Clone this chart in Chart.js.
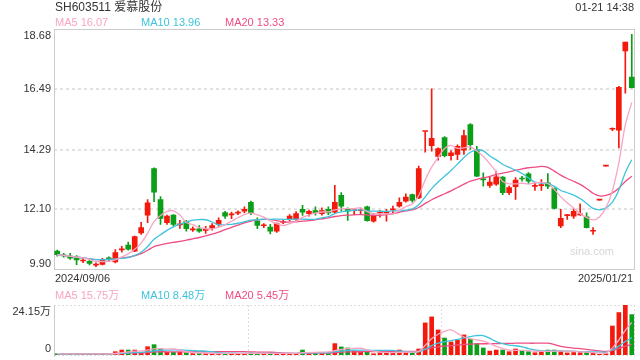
<!DOCTYPE html>
<html lang="zh">
  <head>
    <meta charset="utf-8" />
    <title>SH603511 爱慕股份</title>
    <style>
      * {
        margin: 0;
        padding: 0;
      }
      body {
        width: 640px;
        height: 360px;
        background: #fff;
        position: relative;
        overflow: hidden;
      }
      canvas {
        position: absolute;
        left: 0;
      }
      #kChart {
        top: 0;
      }
      #volChart {
        top: 285px;
      }
    </style>
  </head>
  <body>
    <canvas id="kChart" width="640" height="285"></canvas>
    <canvas id="volChart" width="640" height="75"></canvas>

    <script src="https://cdn.jsdelivr.net/npm/chart.js@4.4.1/dist/chart.umd.min.js"></script>

    <script>
      // trading days shown
      const dates = [
        "2024-09-06", "2024-09-09", "2024-09-10", "2024-09-11", "2024-09-12", "2024-09-13",
        "2024-09-18", "2024-09-19", "2024-09-20", "2024-09-23", "2024-09-24", "2024-09-25",
        "2024-09-26", "2024-09-27", "2024-09-30",
        "2024-10-08", "2024-10-09", "2024-10-10", "2024-10-11", "2024-10-14", "2024-10-15",
        "2024-10-16", "2024-10-17", "2024-10-18", "2024-10-21", "2024-10-22", "2024-10-23",
        "2024-10-24", "2024-10-25", "2024-10-28", "2024-10-29", "2024-10-30", "2024-10-31",
        "2024-11-01", "2024-11-04", "2024-11-05", "2024-11-06", "2024-11-07", "2024-11-08",
        "2024-11-11", "2024-11-12", "2024-11-13", "2024-11-14", "2024-11-15", "2024-11-18",
        "2024-11-19", "2024-11-20", "2024-11-21", "2024-11-22", "2024-11-25", "2024-11-26",
        "2024-11-27", "2024-11-28", "2024-11-29",
        "2024-12-02", "2024-12-03", "2024-12-04", "2024-12-05", "2024-12-06", "2024-12-09",
        "2024-12-10", "2024-12-11", "2024-12-12", "2024-12-13", "2024-12-16", "2024-12-17",
        "2024-12-18", "2024-12-19", "2024-12-20", "2024-12-23", "2024-12-24", "2024-12-25",
        "2024-12-26", "2024-12-27", "2024-12-30", "2024-12-31",
        "2025-01-02", "2025-01-03", "2025-01-06", "2025-01-07", "2025-01-08", "2025-01-09",
        "2025-01-10", "2025-01-13", "2025-01-14", "2025-01-15", "2025-01-16", "2025-01-17",
        "2025-01-20", "2025-01-21",
      ];

      const open = [
        10.57, 10.44, 10.39, 10.35, 10.21, 10.2, 10.06, 10.09, 10.3, 10.18,
        10.62, 10.79, 10.57, 11.24, 11.89, 13.59, 12.46, 11.61, 11.89, 11.53,
        11.66, 11.35, 11.39, 11.33, 11.41, 11.55, 11.98, 11.9, 11.96, 12.03,
        12.36, 11.67, 11.5, 11.45, 11.3, 11.62, 11.75, 11.73, 12.1, 11.94,
        12.06, 11.94, 12.1, 12.0, 12.61, 12.1, 12.05, 12.05, 12.19, 11.67,
        11.96, 11.97, 12.08, 12.22, 12.4, 12.64, 12.52, 14.95, 14.43, 14.04,
        14.73, 14.06, 14.11, 14.27, 15.2, 14.29, 13.2, 12.98, 13.02, 13.28,
        12.71, 12.93, 13.23, 13.4, 12.94, 12.97, 13.07, 12.86, 11.49, 11.87,
        11.85, 11.9, 11.83, 11.3, 12.44, 13.68, 15.03, 15.0, 17.9, 16.94,
      ];
      const high = [
        10.61, 10.49, 10.49, 10.41, 10.33, 10.27, 10.14, 10.31, 10.36, 10.63,
        10.75, 10.9, 11.12, 11.63, 12.46, 13.62, 12.57, 11.89, 11.91, 11.7,
        11.7, 11.46, 11.51, 11.48, 11.58, 11.79, 12.03, 12.0, 12.05, 12.19,
        12.4, 11.79, 11.58, 11.55, 11.61, 11.73, 11.91, 12.02, 12.25, 12.07,
        12.19, 12.16, 12.19, 12.98, 12.71, 12.16, 12.12, 12.15, 12.22, 11.91,
        12.06, 12.1, 12.22, 12.52, 12.67, 12.66, 13.68, 14.95, 16.51, 14.35,
        14.76, 14.25, 14.46, 15.0, 15.24, 14.41, 13.44, 13.31, 13.5, 13.3,
        12.95, 13.26, 13.31, 13.45, 13.07, 13.19, 13.41, 12.89, 12.1, 11.91,
        12.12, 12.3, 11.97, 11.43, 12.44, 13.68, 15.08, 16.6, 18.22, 18.5,
      ];
      const low = [
        10.39, 10.35, 10.27, 10.08, 10.15, 10.07, 10.0, 10.07, 10.2, 10.14,
        10.53, 10.61, 10.55, 11.18, 11.61, 12.38, 11.55, 11.55, 11.48, 11.4,
        11.3, 11.29, 11.26, 11.22, 11.34, 11.48, 11.77, 11.76, 11.91, 11.97,
        11.91, 11.39, 11.43, 11.2, 11.26, 11.58, 11.69, 11.7, 11.88, 11.85,
        11.89, 11.89, 11.91, 11.97, 12.04, 11.7, 11.91, 11.94, 11.67, 11.63,
        11.81, 11.67, 11.97, 12.18, 12.36, 12.36, 12.49, 14.19, 14.23, 13.9,
        14.02, 13.9, 13.92, 14.11, 14.29, 13.3, 12.95, 12.9, 12.98, 12.64,
        12.64, 12.46, 13.13, 13.05, 12.79, 12.79, 12.86, 12.12, 11.43, 11.73,
        11.77, 11.88, 11.42, 11.18, 12.44, 13.68, 14.98, 14.35, 16.35, 16.54,
      ];
      const close = [
        10.44, 10.4, 10.31, 10.25, 10.23, 10.12, 10.08, 10.27, 10.29, 10.52,
        10.64, 10.64, 11.1, 11.43, 12.34, 12.73, 11.77, 11.85, 11.55, 11.55,
        11.39, 11.37, 11.3, 11.35, 11.51, 11.7, 11.85, 11.92, 11.98, 12.1,
        11.97, 11.51, 11.52, 11.3, 11.58, 11.64, 11.85, 11.95, 12.0, 12.03,
        11.98, 12.06, 11.97, 12.36, 12.22, 12.03, 12.07, 12.07, 11.69, 11.88,
        11.98, 12.03, 12.1, 12.36, 12.55, 12.43, 13.59, 14.95, 14.7, 14.32,
        14.06, 14.17, 14.41, 14.8, 14.47, 13.31, 13.18, 13.1, 13.29, 12.71,
        12.9, 13.17, 13.21, 13.13, 12.96, 12.98, 12.95, 12.13, 11.77, 11.88,
        12.03, 11.91, 11.43, 11.31, 12.44, 13.68, 15.05, 16.56, 18.22, 16.55,
      ];
      // volume, 万手
      const volume = [
        0.6, 0.5, 0.5, 0.6, 0.5, 0.5, 0.5, 0.5, 0.5, 1.6,
        2.4, 2.4, 2.4, 1.0, 4.0, 5.0, 3.1, 1.3, 1.3, 1.3,
        1.0, 0.7, 0.7, 0.7, 0.7, 0.8, 0.8, 0.7, 0.7, 0.7,
        1.0, 0.8, 0.7, 0.8, 0.8, 0.7, 0.7, 0.8, 2.4, 1.3,
        1.3, 1.3, 1.3, 5.5, 3.9, 3.4, 1.9, 1.6, 1.7, 0.6,
        1.1, 1.1, 1.1, 2.4, 1.1, 1.1, 2.9, 15.5, 18.4, 12.1,
        8.2, 6.3, 7.2, 9.7, 7.7, 5.5, 3.4, 1.9, 2.4, 2.4,
        1.6, 2.9, 1.9, 1.6, 1.1, 1.6, 2.4, 2.4, 1.9, 1.0,
        1.2, 1.2, 1.5, 0.8, 0.35, 0.6, 14.0, 20.5, 24.15, 19.5,
      ];

      const priceTicks = [18.68, 16.49, 14.29, 12.1, 9.9];
      const priceTickLabels = ["18.68", "16.49", "14.29", "12.10", "9.90"];
      const volTicks = [24.15, 0];
      const volTickLabels = ["24.15万", "0"];
      const dateLabels = ["2024/09/06", "2025/01/21"];
      const maNames = ["MA5", "MA10", "MA20"];
      const maPeriods = [5, 10, 20];
      const maPriceText = ["16.07", "13.96", "13.33"];
      const maVolText = ["15.75万", "8.48万", "5.45万"];

      const RED = "#f3190c";
      const GREEN = "#0b9e18";
      const maColors = ["#f8a5c4", "#3ec3dd", "#ee4d84"];
      const FONT = '"Liberation Sans", Arial, "Noto Sans CJK SC", sans-serif';

      function movingAvg(arr, n) {
        return arr.map((v, i) => {
          const s = arr.slice(Math.max(0, i - n + 1), i + 1);
          return s.reduce((a, b) => a + b, 0) / s.length;
        });
      }

      const candleColor = close.map((c, i) => (c >= open[i] ? RED : GREEN));

      function maDatasets(src) {
        return maPeriods.map((p, k) => ({
          type: "line",
          label: maNames[k],
          data: movingAvg(src, p),
          borderColor: maColors[k],
          borderWidth: 1.3,
          pointRadius: 0,
          tension: 0.35,
          order: 0,
        }));
      }

      function dotted(ctx, x1, y1, x2, y2) {
        ctx.beginPath();
        ctx.moveTo(x1, y1);
        ctx.lineTo(x2, y2);
        ctx.stroke();
      }

      const kFrame = {
        id: "kFrame",
        beforeDatasetsDraw(chart) {
          const { ctx, chartArea: a, scales } = chart;
          ctx.save();
          ctx.strokeStyle = "#e2e2e2";
          ctx.lineWidth = 2;
          ctx.setLineDash([3, 3]);
          priceTicks.slice(1, -1).forEach((v) => {
            const y = Math.round(scales.y.getPixelForValue(v));
            dotted(ctx, a.left, y, a.right, y);
          });
          ctx.setLineDash([]);
          ctx.lineWidth = 1;
          ctx.strokeStyle = "#cccccc";
          ctx.strokeRect(a.left + 0.5, a.top, a.right - a.left - 1, a.bottom - a.top);
          ctx.fillStyle = "#d6d6d6";
          ctx.font = "11px " + FONT;
          ctx.textAlign = "right";
          ctx.textBaseline = "middle";
          ctx.fillText("sina.com", a.right - 21, a.bottom - 18);
          ctx.restore();
        },
        afterDraw(chart) {
          const { ctx, chartArea: a, scales } = chart;
          ctx.save();
          ctx.fillStyle = "#333";
          ctx.font = "12px " + FONT;
          ctx.textBaseline = "middle";
          ctx.textAlign = "left";
          ctx.fillText("SH603511 爱慕股份", 55, 8);
          ctx.font = "11px " + FONT;
          ctx.textAlign = "right";
          ctx.fillText("01-21 14:38", 634, 8);

          const legendX = [55, 141, 225];
          ctx.textAlign = "left";
          maNames.forEach((n, k) => {
            ctx.fillStyle = maColors[k];
            ctx.fillText(n + " " + maPriceText[k], legendX[k], 23);
          });

          ctx.fillStyle = "#333";
          ctx.textAlign = "right";
          priceTicks.forEach((v, k) => {
            let y = scales.y.getPixelForValue(v);
            if (k === 0) y += 6;
            if (k === priceTicks.length - 1) y -= 6;
            ctx.fillText(priceTickLabels[k], 51, y);
          });

          ctx.textAlign = "left";
          ctx.fillText(dateLabels[0], 55, a.bottom + 9);
          ctx.textAlign = "right";
          ctx.fillText(dateLabels[1], 633, a.bottom + 9);
          ctx.restore();
        },
      };

      const kConfig = {
        type: "bar",
        data: {
          labels: dates,
          datasets: [
            ...maDatasets(close),
            {
              label: "body",
              data: open.map((o, i) => [o, close[i]]),
              backgroundColor: candleColor,
              barThickness: 5,
              minBarLength: 1,
              grouped: false,
              order: 1,
            },
            {
              label: "wick",
              data: low.map((l, i) => [l, high[i]]),
              backgroundColor: candleColor,
              barThickness: 1,
              grouped: false,
              order: 2,
            },
          ],
        },
        options: {
          responsive: false,
          animation: false,
          devicePixelRatio: 1,
          layout: {
            padding: { left: 54, right: 5, top: 29.5, bottom: 15.5 },
          },
          scales: {
            x: { display: false, offset: true },
            y: { display: false, min: 9.9, max: 18.68 },
          },
          plugins: {
            legend: { display: false },
            tooltip: { enabled: false },
          },
        },
        plugins: [kFrame],
      };

      const volFrame = {
        id: "volFrame",
        beforeDatasetsDraw(chart) {
          const { ctx, chartArea: a } = chart;
          ctx.save();
          ctx.strokeStyle = "#dcdcdc";
          ctx.lineWidth = 1;
          ctx.setLineDash([2, 2]);
          dotted(ctx, a.left, a.top + 0.5, a.right, a.top + 0.5);
          dotted(ctx, a.left, a.bottom + 0.5, a.right, a.bottom + 0.5);
          dotted(ctx, a.right - 0.5, a.top, a.right - 0.5, a.bottom);
          const w = a.right - a.left;
          [1, 2].forEach((k) => {
            const x = Math.round(a.left + (w * k) / 3) + 0.5;
            dotted(ctx, x, a.top, x, a.bottom);
          });
          ctx.setLineDash([]);
          ctx.strokeStyle = "#cccccc";
          dotted(ctx, a.left + 0.5, a.top, a.left + 0.5, a.bottom + 2);
          ctx.restore();
        },
        afterDraw(chart) {
          const { ctx, scales } = chart;
          ctx.save();
          ctx.font = "11px " + FONT;
          ctx.textBaseline = "middle";
          const legendX = [55, 141, 225];
          ctx.textAlign = "left";
          maNames.forEach((n, k) => {
            ctx.fillStyle = maColors[k];
            ctx.fillText(n + " " + maVolText[k], legendX[k], 11);
          });
          ctx.fillStyle = "#333";
          ctx.textAlign = "right";
          volTicks.forEach((v, k) => {
            let y = scales.y.getPixelForValue(v);
            y += k === 0 ? 7 : -6;
            ctx.fillText(volTickLabels[k], 51, y);
          });
          ctx.restore();
        },
      };

      const volConfig = {
        type: "bar",
        data: {
          labels: dates,
          datasets: [
            ...maDatasets(volume),
            {
              label: "volume",
              data: volume,
              backgroundColor: candleColor,
              barThickness: 4,
              order: 1,
            },
          ],
        },
        options: {
          responsive: false,
          animation: false,
          devicePixelRatio: 1,
          layout: {
            padding: { left: 54, right: 5, top: 20, bottom: 5 },
          },
          scales: {
            x: { display: false, offset: true },
            y: { display: false, min: 0, max: 24.15 },
          },
          plugins: {
            legend: { display: false },
            tooltip: { enabled: false },
          },
        },
        plugins: [volFrame],
      };

      const kChart = new Chart(document.getElementById("kChart"), kConfig);
      const volChart = new Chart(document.getElementById("volChart"), volConfig);
    </script>
  </body>
</html>
